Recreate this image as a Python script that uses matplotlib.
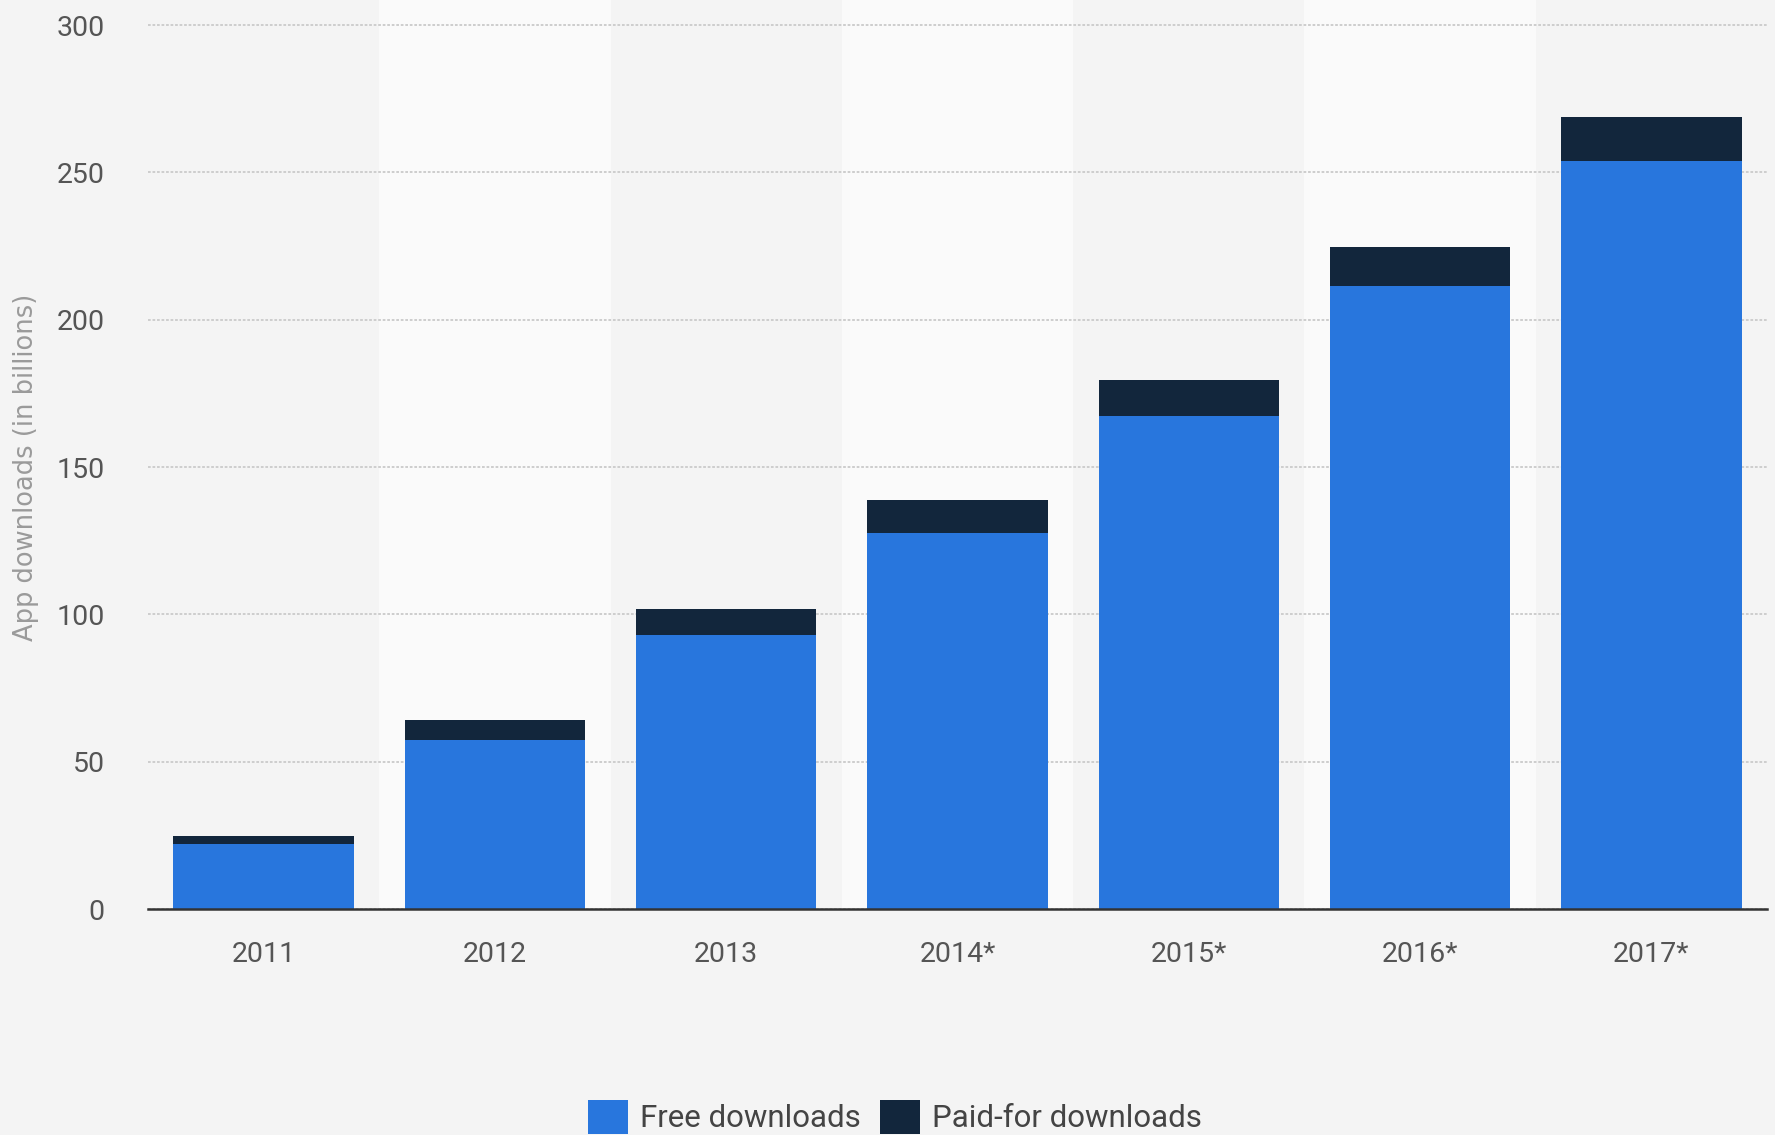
import matplotlib
matplotlib.use("Agg")
import matplotlib.pyplot as plt
from matplotlib.patches import Patch
import numpy as np

years = ["2011", "2012", "2013", "2014*", "2015*", "2016*", "2017*"]
free_downloads = [22.0, 57.3, 92.9, 127.7, 167.4, 211.3, 253.9]
paid_downloads = [2.9, 6.7, 9.0, 11.0, 12.3, 13.5, 14.8]
y_ticks = [0, 50, 100, 150, 200, 250, 300]

FREE_C = "#2876dd"
PAID_C = "#12263c"
BG = "#f4f4f4"
BAND = "#fafafa"
NARROW = ["Roboto", "DejaVu Sans"]

fig = plt.figure(figsize=(17.75, 11.35), dpi=100, facecolor=BG)
ax = fig.add_axes([148 / 1775, (1135 - 909) / 1135, 1619 / 1775, 909 / 1135])
ax.set_facecolor(BG)

x = np.arange(len(years))
for i in x:
    if i % 2 == 1:
        ax.axvspan(i - 0.5, i + 0.5, color=BAND, zorder=0, lw=0)

ax.bar(x, free_downloads, width=0.78, color=FREE_C, zorder=3, label="Free downloads")
ax.bar(x, paid_downloads, width=0.78, bottom=free_downloads, color=PAID_C, zorder=3,
       label="Paid-for downloads")

ax.set_xlim(-0.5, len(years) - 0.5)
ax.set_ylim(0, 308.5)
ax.set_yticks(y_ticks)
ax.set_xticks(x)
ax.set_xticklabels(years)

ax.set_axisbelow(True)
ax.yaxis.grid(True, color="#cacaca", linestyle=(0, (1.5, 1.0)), linewidth=1.3, zorder=1)
ax.xaxis.grid(False)

for s in ["top", "left", "right"]:
    ax.spines[s].set_visible(False)
ax.spines["bottom"].set_color("#333333")
ax.spines["bottom"].set_linewidth(1.8)
ax.spines["bottom"].set_zorder(4)

ax.tick_params(axis="both", length=0)
ax.tick_params(axis="y", pad=31)
ax.tick_params(axis="x", pad=23)
for lbl in ax.get_yticklabels() + ax.get_xticklabels():
    lbl.set_family(NARROW)
    lbl.set_fontsize(20.5)
    lbl.set_color("#555555")

fig.text(26 / 1775, 1 - 467 / 1135, "App downloads (in billions)", rotation=90,
         ha="center", va="center", fontsize=18.5, color="#9a9a9a", family="DejaVu Sans")

handles = [Patch(facecolor=FREE_C, edgecolor="none"), Patch(facecolor=PAID_C, edgecolor="none")]
leg = fig.legend(handles, ["Free downloads", "Paid-for downloads"], loc="center",
                 bbox_to_anchor=(895 / 1775, 1 - 1117 / 1135), ncol=2, frameon=False,
                 prop={"family": NARROW, "size": 22.5}, handlelength=1.28, handleheight=1.28,
                 handletextpad=0.38, columnspacing=0.64, borderpad=0, borderaxespad=0)
for t in leg.get_texts():
    t.set_color("#444444")

fig.savefig("out.png", dpi=100, facecolor=BG)
